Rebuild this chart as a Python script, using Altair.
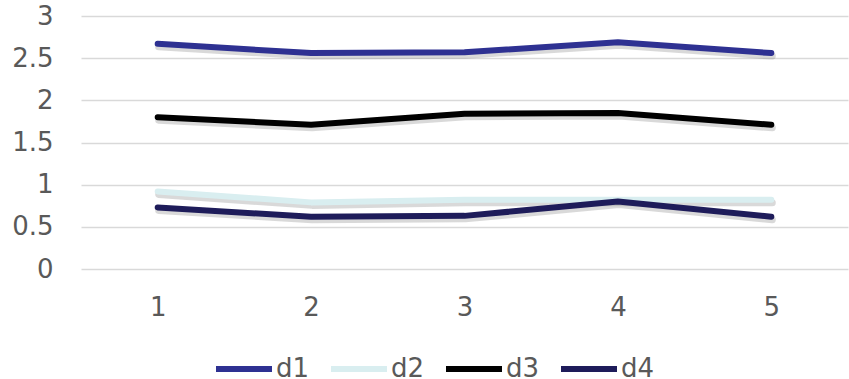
import altair as alt
import pandas as pd

categories = [1, 2, 3, 4, 5]
d1 = [2.67, 2.56, 2.57, 2.69, 2.56]
d2 = [0.92, 0.79, 0.82, 0.82, 0.82]
d3 = [1.80, 1.71, 1.84, 1.85, 1.71]
d4 = [0.73, 0.62, 0.63, 0.80, 0.62]
series_names = ["d1", "d2", "d3", "d4"]
colors = ["#2E3192", "#D9EEF0", "#000000", "#1E1C5A"]

rows = []
for name, vals in zip(series_names, [d1, d2, d3, d4]):
    for c, v in zip(categories, vals):
        rows.append({"x": str(c), "value": v, "series": name})
df = pd.DataFrame(rows)

FONT = "DejaVu Sans"
FS = 26

x_enc = alt.X("x:N", sort=[str(c) for c in categories],
              scale=alt.Scale(paddingOuter=0.5, paddingInner=1),
              axis=alt.Axis(title=None, labelAngle=0, domain=False, ticks=False,
                            labelPadding=25, grid=False))
y_enc = alt.Y("value:Q", scale=alt.Scale(domain=[0, 3], nice=False),
              axis=alt.Axis(title=None, values=[0, 0.5, 1, 1.5, 2, 2.5, 3],
                            format="~g", domain=False, ticks=False, labelPadding=28,
                            gridColor="#D9D9D9", gridWidth=1.5))

shadow = alt.Chart(df).mark_line(strokeWidth=7, strokeCap="round", strokeJoin="round",
                                 color="#808080", opacity=0.3, yOffset=3, xOffset=1).encode(
    x=x_enc, y=y_enc, detail="series:N")

lines = alt.Chart(df).mark_line(strokeWidth=6, strokeCap="round", strokeJoin="round").encode(
    x=x_enc, y=y_enc,
    color=alt.Color("series:N", scale=alt.Scale(domain=series_names, range=colors),
                    legend=alt.Legend(title=None, orient="none", direction="horizontal",
                                      columns=4, legendX=132, legendY=322,
                                      symbolType="stroke", symbolSize=3136,
                                      symbolStrokeWidth=6, labelOffset=1,
                                      columnPadding=9, padding=0)))

chart = alt.layer(shadow, lines).properties(
    width=767, height=253,
    autosize=alt.AutoSizeParams(type="none"),
    padding={"left": 81, "top": 16, "right": 1, "bottom": 110},
).configure_view(stroke=None).configure_axis(
    labelFont=FONT, labelFontSize=FS, labelColor="#595959"
).configure_legend(
    labelFont=FONT, labelFontSize=FS, labelColor="#595959"
)

chart.save("out.html", embed_options={"renderer": "svg", "actions": False})
